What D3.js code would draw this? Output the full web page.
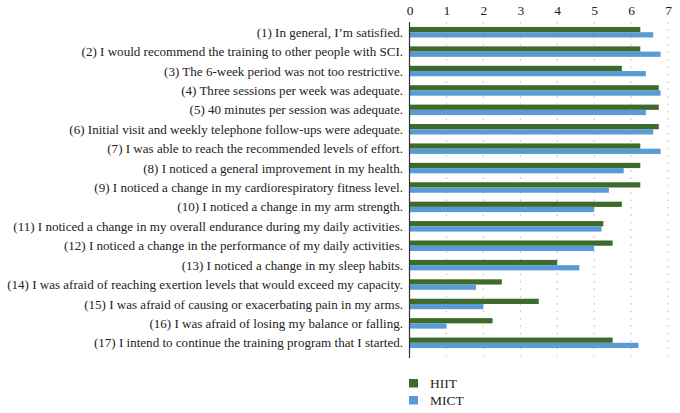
<!DOCTYPE html>
<html>
<head>
<meta charset="utf-8">
<script src="https://cdn.jsdelivr.net/npm/d3@7"></script>
<style>
	body { margin: 0; background: #fff; }
	svg { display: block; }
</style>
</head>
<body>
<script>
"use strict";

// Questionnaire items
let items = [
	"(1) In general, I\u2019m satisfied.",
	"(2) I would recommend the training to other people with SCI.",
	"(3) The 6-week period was not too restrictive.",
	"(4) Three sessions per week was adequate.",
	"(5) 40 minutes per session was adequate.",
	"(6) Initial visit and weekly telephone follow-ups were adequate.",
	"(7) I was able to reach the recommended levels of effort.",
	"(8) I noticed a general improvement in my health.",
	"(9) I noticed a change in my cardiorespiratory fitness level.",
	"(10) I noticed a change in my arm strength.",
	"(11) I noticed a change in my overall endurance during my daily activities.",
	"(12) I noticed a change in the performance of my daily activities.",
	"(13) I noticed a change in my sleep habits.",
	"(14) I was afraid of reaching exertion levels that would exceed my capacity.",
	"(15) I was afraid of causing or exacerbating pain in my arms.",
	"(16) I was afraid of losing my balance or falling.",
	"(17) I intend to continue the training program that I started."
];

let seriesNames = ["HIIT", "MICT"];
let seriesColors = ["#3d6b2a", "#5b9bd5"];

let hiit = [6.25, 6.25, 5.75, 6.75, 6.75, 6.75, 6.25, 6.25, 6.25, 5.75, 5.25, 5.5, 4.0, 2.5, 3.5, 2.25, 5.5];
let mict = [6.6, 6.8, 6.4, 6.8, 6.4, 6.6, 6.8, 5.8, 5.4, 5.0, 5.2, 5.0, 4.6, 1.8, 2.0, 1.0, 6.2];

let xTicks = [0, 1, 2, 3, 4, 5, 6, 7];

function draw () {

	let width = 680,
		height = 413;

	let svg = d3.select("body").append("svg")
		.attr("width", width)
		.attr("height", height)
		.style("font-family", "'Liberation Serif', 'DejaVu Serif', serif");

	let x = d3.scaleLinear()
		.domain([0, 7])
		.range([409.5, 668]);

	let y = d3.scaleBand()
		.domain(items)
		.range([22.5, 352.5])
		.paddingInner(0.46)
		.paddingOuter(0.23);

	let ySub = d3.scaleBand()
		.domain(seriesNames)
		.range([0, y.bandwidth()]);

	// dotted vertical gridlines
	svg.append("g")
		.selectAll("line")
		.data(xTicks.slice(1))
		.enter()
		.append("line")
			.attr("x1", d => x(d))
			.attr("x2", d => x(d))
			.attr("y1", 22)
			.attr("y2", 356)
			.attr("stroke", "#b5b5b5")
			.attr("stroke-width", 1)
			.attr("stroke-dasharray", "1.5,5.9");

	// top axis labels
	let xAxis = d3.axisTop(x)
		.tickValues(xTicks)
		.tickFormat(d3.format("d"))
		.tickSize(0)
		.tickPadding(5);

	let axisG = svg.append("g")
		.attr("transform", "translate(0,20)")
		.call(xAxis);
	axisG.select(".domain").remove();
	axisG.selectAll("text")
		.style("font-family", "'Liberation Serif', 'DejaVu Serif', serif")
		.style("font-size", "13.5px")
		.attr("fill", "#222");

	// bars
	let groups = svg.append("g")
		.selectAll("g")
		.data(items)
		.enter()
		.append("g")
			.attr("transform", d => "translate(0," + y(d) + ")");

	groups.selectAll("rect")
		.data((d, i) => [
			{ name: "HIIT", value: hiit[i] },
			{ name: "MICT", value: mict[i] }
		])
		.enter()
		.append("rect")
			.attr("x", x(0))
			.attr("y", d => ySub(d.name))
			.attr("width", d => x(d.value) - x(0))
			.attr("height", ySub.bandwidth())
			.attr("fill", d => seriesColors[seriesNames.indexOf(d.name)]);

	// category labels
	svg.append("g")
		.selectAll("text")
		.data(items)
		.enter()
		.append("text")
			.attr("x", 403)
			.attr("y", d => y(d) + y.bandwidth() / 2)
			.attr("dy", "0.35em")
			.attr("text-anchor", "end")
			.style("font-size", "13.05px")
			.attr("fill", "#222")
			.text(d => d);

	// vertical axis line
	svg.append("line")
		.attr("x1", x(0))
		.attr("x2", x(0))
		.attr("y1", 22)
		.attr("y2", 358)
		.attr("stroke", "#333")
		.attr("stroke-width", 1.2);

	// legend
	let legend = svg.append("g")
		.selectAll("g")
		.data(seriesNames)
		.enter()
		.append("g")
			.attr("transform", (d, i) => "translate(409," + (379 + i * 17) + ")");

	legend.append("rect")
		.attr("width", 9)
		.attr("height", 8.5)
		.attr("fill", (d, i) => seriesColors[i]);

	legend.append("text")
		.attr("x", 21)
		.attr("y", 4.5)
		.attr("dy", "0.35em")
		.style("font-size", "13.5px")
		.attr("fill", "#222")
		.text(d => d);
}

draw();
</script>
</body>
</html>
